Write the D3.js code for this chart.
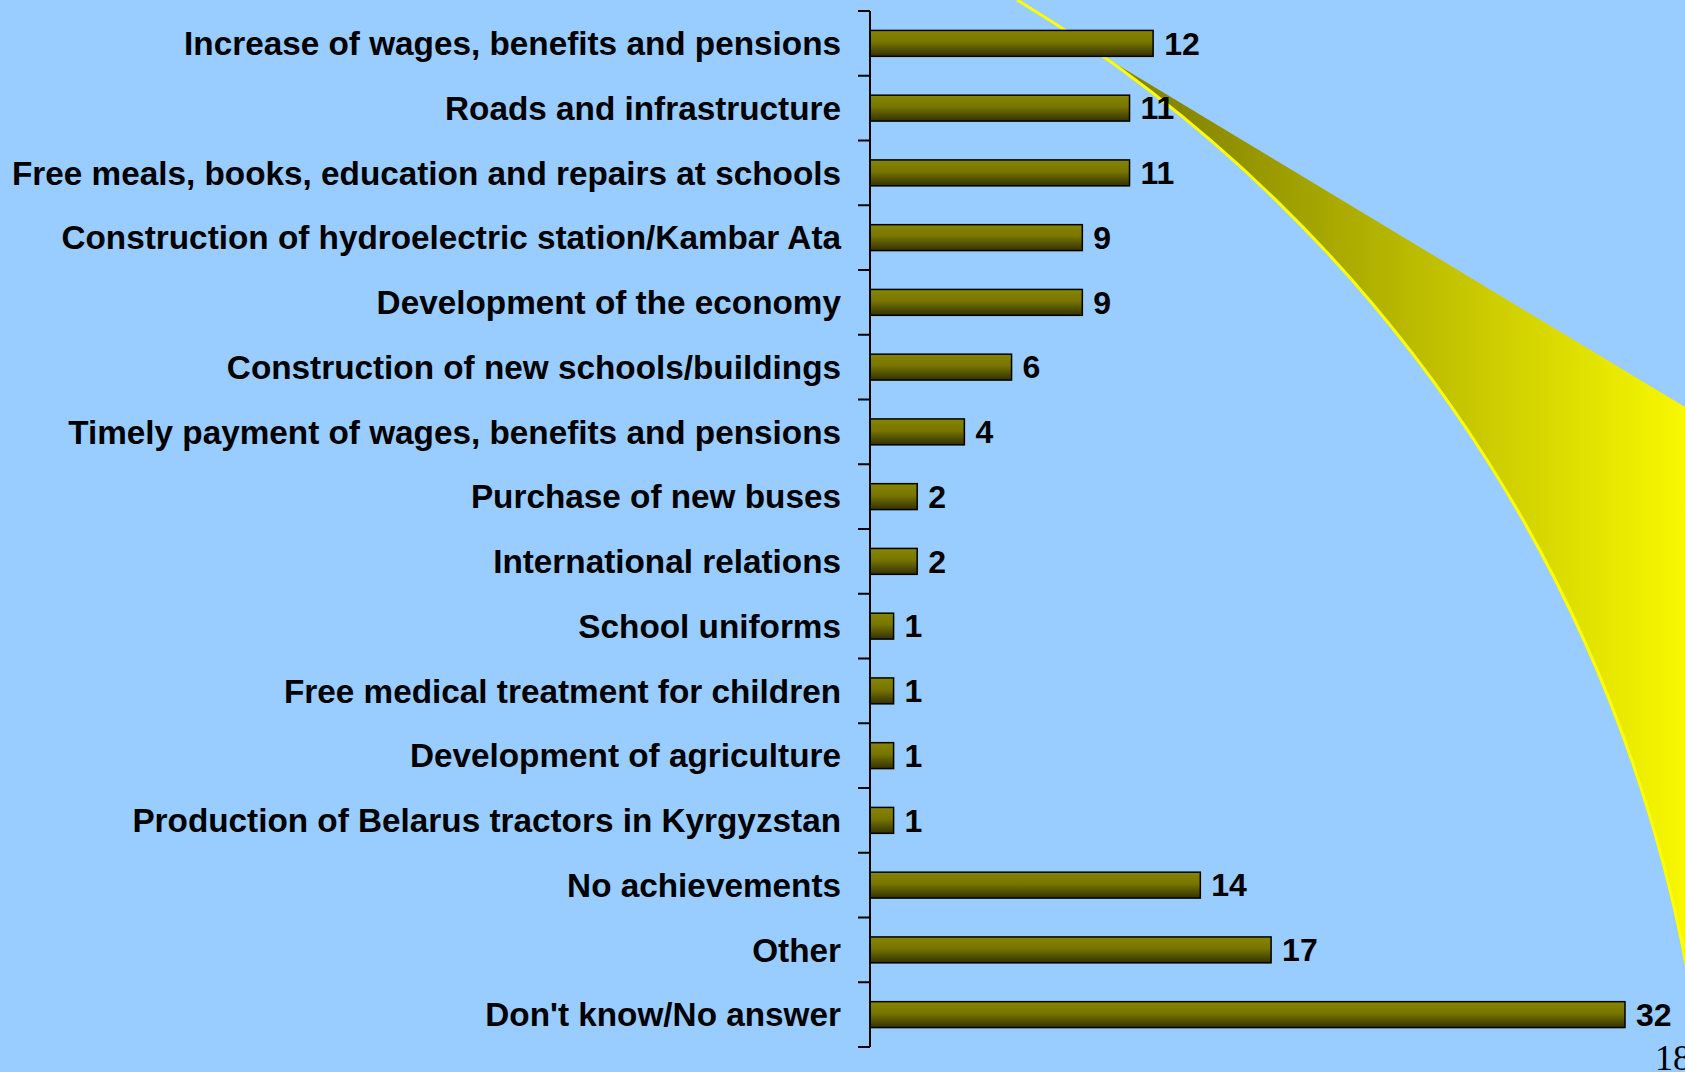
<!DOCTYPE html>
<html>
<head>
<meta charset="utf-8">
<script src="https://cdn.jsdelivr.net/npm/d3@7"></script>
<style>
  html, body { margin: 0; padding: 0; background: #99ccff; overflow: hidden; }
  svg { display: block; }
</style>
</head>
<body>
<div id="chart"></div>
<script>
// Chart data
const categories = [
  'Increase of wages, benefits and pensions',
  'Roads and infrastructure',
  'Free meals, books, education and repairs at schools',
  'Construction of hydroelectric station/Kambar Ata',
  'Development of the economy',
  'Construction of new schools/buildings',
  'Timely payment of wages, benefits and pensions',
  'Purchase of new buses',
  'International relations',
  'School uniforms',
  'Free medical treatment for children',
  'Development of agriculture',
  'Production of Belarus tractors in Kyrgyzstan',
  'No achievements',
  'Other',
  "Don't know/No answer",
];
const values = [12, 11, 11, 9, 9, 6, 4, 2, 2, 1, 1, 1, 1, 14, 17, 32];
const pageNumber = '18';

// Dimensions
const width = 1685;
const height = 1072;
const axisX = 870;
const plotTop = 11;
const plotBottom = 1047;

// Decorative swoosh from the slide template: a circle arc plus a wedge
const swoosh = { cx: 272, cy: 1231, r: 1439 };
const swooshSplit = [1101, 57];
const swooshTop = [1685, 407];

// Scales
const x = d3.scaleLinear().domain([0, 32]).range([axisX, 1625]);
const y = d3.scaleBand()
  .domain(categories)
  .range([plotTop, plotBottom])
  .paddingInner(0.6)
  .paddingOuter(0.3);

const svg = d3.select('#chart')
  .append('svg')
  .attr('width', width)
  .attr('height', height);

const defs = svg.append('defs');

// Bar fill: olive at the top fading dark towards the bottom
const barGrad = defs.append('linearGradient')
  .attr('id', 'barGrad')
  .attr('x1', 0).attr('y1', 0)
  .attr('x2', 0).attr('y2', 1);
barGrad.append('stop').attr('offset', '0%').attr('stop-color', '#868600');
barGrad.append('stop').attr('offset', '45%').attr('stop-color', '#777500');
barGrad.append('stop').attr('offset', '100%').attr('stop-color', '#333100');

// Swoosh fill: olive to bright yellow, left to right
const swooshGrad = defs.append('linearGradient')
  .attr('id', 'swooshGrad')
  .attr('gradientUnits', 'userSpaceOnUse')
  .attr('x1', 1180).attr('y1', 0)
  .attr('x2', 1685).attr('y2', 0);
swooshGrad.append('stop').attr('offset', '0%').attr('stop-color', '#868600');
swooshGrad.append('stop').attr('offset', '100%').attr('stop-color', '#f8f800');

/**
 * Angle on the swoosh circle for a point
 * @param {number} px x
 * @param {number} py y
 * @return {number} angle in radians
 */
function swooshAngle(px, py) {
  return Math.atan2(py - swoosh.cy, px - swoosh.cx);
}

// Where the arc leaves the right edge and the bottom edge
const rightY = swoosh.cy - Math.sqrt(swoosh.r ** 2 - (width - swoosh.cx) ** 2);
const bottomX = swoosh.cx + Math.sqrt(swoosh.r ** 2 - (height + 10 - swoosh.cy) ** 2);
const topX = swoosh.cx + Math.sqrt(swoosh.r ** 2 - swoosh.cy ** 2);

// Wedge: arc along the bottom, straight edge along the top
const band = d3.path();
band.arc(swoosh.cx, swoosh.cy, swoosh.r,
  swooshAngle(swooshSplit[0], swooshSplit[1]), swooshAngle(width, rightY));
band.lineTo(swooshTop[0], swooshTop[1]);
band.closePath();

svg.append('path')
  .attr('d', band.toString())
  .attr('fill', 'url(#swooshGrad)');

// Thin bright arc line
const arcLine = d3.path();
arcLine.arc(swoosh.cx, swoosh.cy, swoosh.r,
  swooshAngle(topX, 0), swooshAngle(bottomX, height + 10));

svg.append('path')
  .attr('d', arcLine.toString())
  .attr('fill', 'none')
  .attr('stroke', '#ffff00')
  .attr('stroke-width', 3);

// Bars
svg.selectAll('.bar')
  .data(values)
  .enter().append('rect')
  .attr('class', 'bar')
  .attr('x', x(0))
  .attr('y', (d, i) => y(categories[i]))
  .attr('width', d => x(d) - x(0))
  .attr('height', y.bandwidth())
  .attr('fill', 'url(#barGrad)')
  .attr('stroke', '#000')
  .attr('stroke-width', 1.5);

// Value labels
svg.selectAll('.value')
  .data(values)
  .enter().append('text')
  .attr('class', 'value')
  .attr('x', d => x(d) + 11)
  .attr('y', (d, i) => y(categories[i]) + y.bandwidth() / 2)
  .attr('dy', '0.35em')
  .style('font-family', '"Liberation Sans", Arial, sans-serif')
  .style('font-weight', 'bold')
  .style('font-size', '32px')
  .attr('fill', '#000')
  .text(d => d);

// Category axis: line with ticks between categories
const axis = svg.append('g').attr('class', 'axis');
axis.append('line')
  .attr('x1', axisX).attr('x2', axisX)
  .attr('y1', plotTop).attr('y2', plotBottom)
  .attr('stroke', '#000')
  .attr('stroke-width', 2);

axis.selectAll('.tick')
  .data(d3.range(categories.length + 1))
  .enter().append('line')
  .attr('class', 'tick')
  .attr('x1', axisX - 12).attr('x2', axisX)
  .attr('y1', i => plotTop + i * y.step())
  .attr('y2', i => plotTop + i * y.step())
  .attr('stroke', '#000')
  .attr('stroke-width', 2);

axis.selectAll('.label')
  .data(categories)
  .enter().append('text')
  .attr('class', 'label')
  .attr('x', axisX - 29)
  .attr('y', d => y(d) + y.bandwidth() / 2)
  .attr('dy', '0.35em')
  .attr('text-anchor', 'end')
  .style('font-family', '"Liberation Sans", Arial, sans-serif')
  .style('font-weight', 'bold')
  .style('font-size', '33.3px')
  .attr('fill', '#000')
  .text(d => d);

// Slide page number (cut by the slide edge, as in the original)
svg.append('text')
  .attr('x', 1655)
  .attr('y', 1070)
  .style('font-family', '"Liberation Serif", "Times New Roman", serif')
  .style('font-size', '36px')
  .attr('fill', '#000')
  .text(pageNumber);
</script>
</body>
</html>
